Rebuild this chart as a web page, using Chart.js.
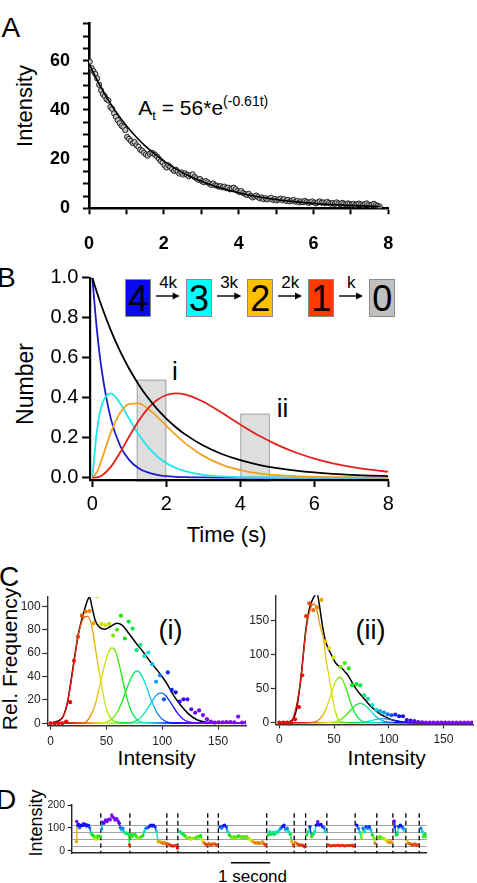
<!DOCTYPE html>
<html><head><meta charset="utf-8">
<script src="https://cdn.jsdelivr.net/npm/chart.js@4.4.1/dist/chart.umd.min.js"></script>
<style>
html,body{margin:0;padding:0;background:#fff;}
body{width:477px;height:883px;position:relative;overflow:hidden;font-family:'Liberation Sans',Arial,sans-serif;color:#000;}
canvas{position:absolute;}
.t{position:absolute;white-space:nowrap;line-height:1;}
.c{transform:translateX(-50%);}
.r{transform:translate(-50%,-50%) rotate(-90deg);}
.box{position:absolute;box-sizing:border-box;border:1px solid #8a8a8a;text-align:center;font-size:36px;line-height:37px;width:26px;height:38px;top:279px;}
svg{position:absolute;overflow:visible;}
</style></head><body>

<div class="t" style="left:1.5px;top:14.4px;font-size:28px">A</div>
<div class="t" style="left:-3px;top:263.9px;font-size:28px">B</div>
<div class="t" style="left:-1px;top:563.4px;font-size:28px">C</div>
<div class="t" style="left:-4px;top:786.4px;font-size:28px">D</div>

<div class="t" style="left:138.3px;top:97px;font-size:21px">A<span style="font-size:13px;position:relative;top:5px">t</span> = 56*e<span style="font-size:14px;position:relative;top:-9px">(-0.61t)</span></div>
<div class="t r" style="left:25px;top:106px;font-size:22px">Intensity</div>

<div class="t r" style="left:25px;top:384px;font-size:23px">Number</div>
<div class="t" style="left:186.7px;top:524px;font-size:22px">Time (s)</div>
<div class="t c" style="left:175px;top:358px;font-size:26px">i</div>
<div class="t c" style="left:282.5px;top:394.7px;font-size:26px">ii</div>

<div id="scheme"></div>

<div class="t r" style="left:9px;top:659px;font-size:21px">Rel. Frequency</div>
<div class="t c" style="left:156.7px;top:747.3px;font-size:21px">Intensity</div>
<div class="t c" style="left:386.7px;top:747.3px;font-size:21px">Intensity</div>
<div class="t" style="left:170.6px;top:629.6px;font-size:27px;transform:translate(-50%,-50%)">(i)</div>
<div class="t" style="left:370.5px;top:629.6px;font-size:27px;transform:translate(-50%,-50%)">(ii)</div>

<div class="t r" style="left:36px;top:823px;font-size:18px">Intensity</div>
<div class="t c" style="left:252.5px;top:867.6px;font-size:17px">1 second</div>

<script>
// ================= DATA =================
// Panel A : photobleaching decay
const aFrameStart = 0.02, aFrameStep = 0.05;
const aIntensity = [
 59.6,57.0,55.8,54.6,52.8,50.2,48.0,46.4,45.6,44.3,
 43.8,41.2,40.4,38.6,37.2,35.8,34.6,33.5,33.0,31.8,
 29.0,28.2,27.4,26.5,26.9,25.6,25.0,23.8,23.4,22.6,
 21.9,21.4,22.2,22.6,22.3,21.7,21.0,20.1,19.2,18.6,
 17.4,16.6,17.5,16.8,16.0,15.2,15.7,14.9,14.1,14.6,
 13.7,14.2,13.6,13.0,13.5,13.8,12.7,12.2,11.6,11.9,
 11.0,10.6,11.1,10.6,10.0,9.5,10.1,9.4,9.2,8.8,
 9.0,8.5,8.8,8.2,8.4,7.7,8.1,8.4,7.8,7.1,
 6.6,7.0,6.2,5.8,5.4,5.9,5.1,4.4,4.8,5.2,
 4.5,4.0,4.4,3.7,4.1,3.6,3.9,4.3,3.4,3.8,
 3.2,3.6,3.9,3.3,3.7,3.0,3.4,2.8,3.1,3.4,
 2.7,3.0,2.4,2.8,2.5,3.0,2.6,2.2,2.5,2.8,
 2.3,2.0,2.5,2.8,2.3,2.4,2.1,2.6,2.2,1.9,
 2.1,1.8,2.4,2.0,1.7,2.2,1.9,1.6,2.0,1.8,
 1.5,1.8,1.4,1.7,1.9,1.6,1.3,1.7,2.0,1.5,
 1.2,1.5,1.8,1.3,1.0,0.7];
const aFitTime  = [0,0.25,0.5,0.75,1,1.25,1.5,1.75,2,2.5,3,3.5,4,4.5,5,5.5,6,6.5,7,7.5,7.8];
const aFitValue = [58.8,51.1,44.4,38.6,33.6,29.2,25.4,22.1,19.2,14.5,11.0,8.3,6.3,4.7,3.6,2.7,2.0,1.5,1.2,0.9,0.75];
const aXLabels = [0,2,4,6,8];
const aYLabels = [0,20,40,60];

// Panel B : number of active fluorophores vs time
const bTime   = [0,0.125,0.25,0.5,0.75,1,1.25,1.5,1.75,2,2.25,2.5,3,3.5,4,4.5,5,5.5,6,6.5,7,7.5,8];
const bBlack  = [1,0.9266,0.8586,0.7371,0.6329,0.5434,0.4665,0.4005,0.3439,0.2952,0.2535,0.2176,0.1604,0.1182,0.0872,0.0642,0.0474,0.0349,0.0257,0.0190,0.0140,0.0103,0.0076];
const bBlue   = [1,0.7372,0.5434,0.2952,0.1605,0.0872,0.0474,0.0257,0.0140,0.0076,0.0041,0.0022,0.0007,0.0002,0.0001,0,0,0,0,0,0,0,0];
const bCyan   = [0,0.2336,0.358,0.4212,0.3722,0.2930,0.2166,0.1540,0.1068,0.0725,0.0486,0.0322,0.0139,0.0058,0.0024,0.0010,0.0004,0.0002,0.0001,0,0,0,0];
const bOrange = [0,0.0278,0.0884,0.2253,0.3239,0.3694,0.3716,0.3459,0.3055,0.2596,0.2149,0.1739,0.1088,0.0652,0.0380,0.0216,0.0122,0.0068,0.0038,0.0021,0.0011,0.0006,0.0003];
const bRed    = [0,0.0015,0.0097,0.0536,0.1252,0.2069,0.2833,0.3452,0.3885,0.4134,0.4218,0.4168,0.3797,0.3242,0.2653,0.2104,0.1639,0.1255,0.0951,0.0716,0.0537,0.0400,0.0297];
const bWindowStart = [1.2, 4.0];
const bWindowEnd   = [2.0, 4.8];
const bWindowTop   = [0.49, 0.32];
const bXLabels = [0,2,4,6,8];
const bYLabels = [0,0.2,0.4,0.6,0.8,1.0];
const bStates = ['4','3','2','1','0'];
const bRates  = ['4k','3k','2k','k'];

// Panel C(i) : intensity histogram, window i
const ciBinX  = [0,3.5,7,10.5,14,17.5,21,24.5,28,31.5,35,38.5,42,45.5,49,52.5,56,59.5,63,66.5,70,73.5,77,80.5,84,87.5,91,94.5,98,101.5,105,108.5,112,115.5,119,122.5,126,129.5,133,136.5,140,143.5,147,150.5,154,157.5,161,164.5,168,171.5,175];
const ciFreq  = [0,0,0,0,1.5,18,53.5,74,92,95.5,96,85.5,109,85,84,85,75,80,92,72.5,87,81,62.5,67,57.5,60.5,50.5,35.5,41,20.5,43.5,28.5,26.5,18.5,20.5,20.5,12,9,11,7,3.5,1.5,0.6,0.8,0.8,1,1,0.8,5.7,0.6,0.6];
const ciSumX  = [0,10,15,20,25,28,31,33,35,37,40,44,49,54,59.5,64,70,77,83,89,95,101,106,110,116,123,131,140,150,175];
const ciSumY  = [0,4,17,47,77,89,99,105,108,100,88,82,80.5,83,85.5,84,77,68,61,53,46,38.5,31,24,16,8.5,3,0.8,0.2,0];
const ci1X = [0,5,10,13,15,17.5,20,22.5,25,28,30.5,33,35.5,38,40,42.5,45,47.5,50,55,60,70,175];
const ci1Y = [0,0.5,4,10,17,30,46,62,76,87,91,91.5,88,78,65,50,36,23,12,3,1,0.3,0];
const ci2X = [0,30,35,40,43,46,49,52,55,58,62,65,68,72,76,80,90,175];
const ci2Y = [0,0.3,5,16,28,40,52,61,64.5,62,48,35,23,11,4.5,1.5,0.3,0];
const ci3X = [0,45,50,55,60,65,70,75,77.5,80,85,90,95,100,105,110,175];
const ci3Y = [0,0.4,1,3.6,9.8,20.7,34,43.4,44.7,43.2,33.5,20.2,9.5,3.5,1,0.2,0];
const ci4X = [0,65,70,75,80,85,90,95,99,103,108,113,118,123,128,135,175];
const ci4Y = [0,0.2,0.4,1.5,4.4,10,17.7,24.2,26,23.8,17,9.5,4.1,1.4,0.4,0.1,0];
const ciXLabels = [0,50,100,150];
const ciYLabels = [0,20,40,60,80,100];

// Panel C(ii) : intensity histogram, window ii
const ciiBinX = [0,3.6,7.2,10.8,14.4,18,21,24.5,27.5,31,34.5,38.5,42,45.7,49.5,56,59.8,63.5,66.5,70.5,74,77.5,81,85,88.5,92,95.5,99,102.5,106,109.5,113,116.5,120,123.5,127,130.5,134,137.5,141,144.5,148,151.5,155,158.5,162,165.5,169,172.5,176];
const ciiFreq = [0,0,0,0,5,23,70,157,176,166,170,181,120,110,96,82,88,80,55.5,57,55,40.5,35,26,19,17,15,12.5,11,12,9.5,9.5,4,3,2.5,1,0.5,0.3,0,0,0,0,0,0,0,0,0,0,0,0];
const ciiSumX = [0,10,13,16,20,24,27,30,32.5,34.5,36.5,39.5,42,44,47,51.5,54,57.5,60,63.5,67,71,75,78.5,83,87.5,92,96.5,101,105.5,110,114.5,120,177];
const ciiSumY = [0,2,6,22,70,134,165,180,188,190,175,142,122,112,102,88,84,80,75,68,58,48,40,33.5,25,18.7,13,8.9,5.5,3,1.5,0.5,0.1,0];
const cii1X = [0,5,10,12.5,15.5,18,20,22,24.5,27,29,31.5,34,37,40.5,43,45.5,48,50,52.5,55,60,70,177];
const cii1Y = [0,0.3,2,6.4,23.6,45,68,100,137,160,171,175,168,145,122,90,68,42,24,10,3,0.5,0.1,0];
const cii2X = [0,30,35,40,43,46,49,52,55,58,61,64,67,70,75,80,90,177];
const cii2Y = [0,0.5,2.9,11.5,21.8,35.6,50.6,62.4,67,62.4,50.6,35.6,21.8,11.5,2.9,0.5,0.05,0];
const cii3X = [0,46,50,54,58,62,66,70,74,78,82,86,90,94,98,102,110,177];
const cii3Y = [0,0.4,1.2,3.1,6.9,12.9,20,26.2,28.6,26.2,20,12.9,6.9,3.1,1.2,0.4,0.1,0];
const cii4X = [0,70,80,88,95,102,110,118,125,177];
const cii4Y = [0,0.2,1.5,4.5,6,4.5,2,0.5,0.1,0];
const ciiXLabels = [0,50,100,150];
const ciiYLabels = [0,50,100,150];

// Panel D : concatenated single-particle traces (time in s, intensity)
const dSegTimes = [
 [0.12,0.13,0.16,0.18,0.2,0.22,0.25,0.28,0.3,0.33,0.35,0.38,0.4,0.43,0.46,0.49,0.52,0.55,0.58,0.6,0.62,0.65,0.67,0.7,0.73],
 [0.76,0.79,0.82,0.86,0.9,0.94,0.98,1.02,1.06,1.1,1.14,1.18,1.21,1.24,1.27,1.3,1.34,1.38,1.42,1.45,1.47],
 [1.5,1.53,1.57,1.61,1.65,1.69,1.73,1.77,1.81,1.85,1.89,1.93,1.97,2.01,2.05,2.08,2.12,2.16,2.2,2.24,2.28,2.32,2.36,2.4],
 [2.45,2.5,2.55,2.6,2.65,2.69],
 [2.76,2.8,2.84,2.88,2.92,2.96,3.0,3.04,3.08,3.12,3.16,3.2,3.24,3.28,3.32,3.36,3.4,3.44],
 [3.49,3.54,3.59,3.64,3.69],
 [3.77,3.81,3.85,3.89,3.93,3.97,4.01,4.05,4.09,4.13,4.17,4.21,4.25,4.29,4.33,4.37,4.41,4.45,4.49,4.53,4.57,4.61,4.65,4.69,4.73,4.77,4.81,4.85,4.89,4.93],
 [5.0,5.04,5.08,5.12,5.16,5.2,5.24,5.28,5.32,5.36,5.4,5.44,5.48,5.52,5.56,5.6,5.64],
 [5.69,5.74,5.79,5.84,5.89,5.93],
 [5.98,6.02,6.06,6.1,6.14,6.18,6.22,6.26,6.3,6.34,6.38,6.42,6.45],
 [6.53,6.59,6.65,6.71,6.77,6.83,6.89,6.95,7.01,7.07,7.13,7.17],
 [7.25,7.29,7.33,7.37,7.41,7.45,7.49,7.53,7.57,7.61,7.65,7.69,7.72],
 [7.8,7.84,7.88,7.92,7.96,8.0,8.04,8.08,8.11,8.14],
 [8.2,8.22,8.25,8.28,8.32,8.36,8.4,8.43,8.46],
 [8.53,8.57,8.62,8.67,8.72,8.76,8.8],
 [8.88,8.92,8.95,8.99,9.02]
];
const dSegValues = [
 [39,128,110,115,100,108,112,110,118,112,115,108,112,110,100,78,70,66,60,55,50,58,65,62,62],
 [95,125,120,134,128,138,135,156,145,134,141,130,120,100,90,98,80,76,76,72,25],
 [71,61,69,72,61,54,57,61,66,83,98,100,105,112,108,112,105,83,39,39,36,32,36,30],
 [29,25,21,21,23,12],
 [83,76,72,65,57,54,57,50,54,54,57,61,61,66,47,35,29,25],
 [32,25,29,29,25],
 [105,98,108,112,105,83,69,61,54,61,54,61,65,61,57,61,58,61,55,50,45,39,36,32,36,32,34,39,30,25],
 [69,83,72,80,72,83,80,90,98,105,112,90,98,83,72,39,25],
 [36,29,25,25,22,17],
 [69,83,105,61,72,83,112,127,112,115,105,100,83],
 [25,21,23,22,24,22,23,21,23,22,24,20],
 [112,98,80,54,98,83,105,98,105,90,69,54,32],
 [57,61,57,54,51,47,39,36,39,36],
 [130,105,69,72,105,112,105,98,90],
 [43,32,29,25,29,25,25],
 [98,83,61,72,61]
];
const dBoundaries = [0.74,1.48,2.42,2.70,3.46,3.73,4.96,5.66,5.95,6.49,7.21,7.76,8.17,8.50,8.84];
const dLevels = [22,53,83,112];
const dYLabels = [0,100,200];
const dDashTop = 164;
const dScaleBarStart = 4.05, dScaleBarLength = 1;

// ================= HELPERS =================
const FONT = "'Liberation Sans', Arial, sans-serif";
Chart.defaults.font.family = FONT;
Chart.defaults.color = '#000';
Chart.defaults.animation = false;
Chart.defaults.plugins.legend.display = false;
Chart.defaults.plugins.tooltip.enabled = false;

const hueStops = [[0,0],[18,0],[28,20],[38,42],[46,58],[55,85],[64,115],[75,145],[86,178],[96,205],[106,232],[118,252],[135,268],[300,275]];
function hueAt(v){
  if (v <= hueStops[0][0]) return hueStops[0][1];
  for (let i=1;i<hueStops.length;i++){
    const [x1,h1] = hueStops[i], [x0,h0] = hueStops[i-1];
    if (v <= x1) return h0 + (h1-h0)*(v-x0)/(x1-x0);
  }
  return hueStops[hueStops.length-1][1];
}
function rainbow(v){
  const h = hueAt(v);
  const l = (h>200) ? 50 : 47;
  return `hsl(${h.toFixed(1)},92%,${l}%)`;
}
function rainbowGradient(chart, vmin, vmax){
  const {ctx, chartArea, scales} = chart;
  if (!chartArea) return '#888';
  const x0 = scales.x.getPixelForValue(vmin), x1 = scales.x.getPixelForValue(vmax);
  const g = ctx.createLinearGradient(x0,0,x1,0);
  for (let v=vmin; v<=vmax; v+=5) g.addColorStop((v-vmin)/(vmax-vmin), rainbow(v));
  return g;
}
function pts(xs, ys){ return xs.map((x,i)=>({x, y:ys[i]})); }

function makeCanvas(left, top, w, h){
  const c = document.createElement('canvas');
  c.width = w; c.height = h;
  c.style.left = left+'px'; c.style.top = top+'px';
  c.style.width = w+'px'; c.style.height = h+'px';
  document.body.appendChild(c);
  return c;
}
function frame(box, area){
  return {
    yW: area.l - box.left,
    xH: box.top + box.h - area.b,
    padding: {top: area.t - box.top, right: box.left + box.w - area.r, left: 0, bottom: 0}
  };
}
function fixedTicks(values){ return s => { s.ticks = values.map(v=>({value:v})); }; }

// ================= PANEL A =================
(function(){
  const box = {left:0, top:0, w:477, h:262};
  const f = frame(box, {l:89, t:2, r:388.3, b:208.3});
  const c = makeCanvas(box.left, box.top, box.w, box.h);
  const scatter = aIntensity.map((v,i)=>({x: aFrameStart + i*aFrameStep, y: v}));
  new Chart(c, {
    type:'line',
    data:{datasets:[
      {data: pts(aFitTime, aFitValue), borderColor:'#000', borderWidth:1.6, pointRadius:0, cubicInterpolationMode:'monotone', fill:false},
      {data: scatter, showLine:false, pointRadius:2.6, pointBackgroundColor:'#c4c4c4', pointBorderColor:'#111', pointBorderWidth:0.9}
    ]},
    options:{
      responsive:false, layout:{padding:f.padding},
      scales:{
        x:{type:'linear', min:0, max:8, afterFit:s=>{s.height=f.xH;},
           afterBuildTicks: fixedTicks([0,1,2,3,4,5,6,7,8]),
           ticks:{padding:19, font:{size:18, weight:'bold'}, maxRotation:0, autoSkip:false,
                  callback:v=> aXLabels.includes(v) ? String(v) : ''},
           grid:{drawOnChartArea:false, tickLength:6, tickWidth:2, tickColor:'#000'},
           border:{width:2.6, color:'#000'}},
        y:{type:'linear', min:0, max:75, afterFit:s=>{s.width=f.yW;},
           afterBuildTicks: fixedTicks([0,5,10,15,20,25,30,35,40,45,50,55,60,65,70,75]),
           ticks:{padding:13, font:{size:18, weight:'bold'}, autoSkip:false,
                  callback:v=> aYLabels.includes(v) ? String(v) : ''},
           grid:{drawOnChartArea:false, tickLength:6, tickWidth:2, tickColor:'#000'},
           border:{width:2.6, color:'#000'}}
      }
    }
  });
})();

// ================= PANEL B =================
(function(){
  const box = {left:0, top:262, w:477, h:300};
  const f = frame(box, {l:90.1, t:275.5, r:388.3, b:480});
  const c = makeCanvas(box.left, box.top, box.w, box.h);
  const windows = {
    id:'bWindows',
    beforeDraw(chart){
      const {ctx, scales:{x,y}} = chart;
      ctx.save();
      for (let i=0;i<bWindowStart.length;i++){
        const x0 = x.getPixelForValue(bWindowStart[i]), x1 = x.getPixelForValue(bWindowEnd[i]);
        const y0 = y.getPixelForValue(bWindowTop[i]), y1 = y.getPixelForValue(-0.02);
        ctx.fillStyle = '#dedede'; ctx.fillRect(x0,y0,x1-x0,y1-y0);
        ctx.strokeStyle = '#a4a4a4'; ctx.lineWidth = 1;
        ctx.strokeRect(x0+0.5,y0+0.5,x1-x0-1,y1-y0-1);
      }
      ctx.restore();
    }
  };
  const line = (ys,col)=>({data:pts(bTime,ys), borderColor:col, borderWidth:1.8, pointRadius:0, cubicInterpolationMode:'monotone', fill:false});
  new Chart(c, {
    type:'line',
    data:{datasets:[ line(bBlack,'#000'), line(bRed,'#e4201a'), line(bOrange,'#f2a11f'), line(bCyan,'#22e6ee'), line(bBlue,'#1c1ccc') ]},
    options:{
      responsive:false, layout:{padding:f.padding},
      scales:{
        x:{type:'linear', min:-0.06, max:8, afterFit:s=>{s.height=f.xH;},
           afterBuildTicks: fixedTicks(bXLabels),
           ticks:{padding:5, font:{size:20}, maxRotation:0, autoSkip:false, callback:v=>String(v)},
           grid:{drawOnChartArea:false, tickLength:7, tickWidth:2, tickColor:'#000'},
           border:{width:2.2, color:'#000'}},
        y:{type:'linear', min:-0.012, max:1.0, afterFit:s=>{s.width=f.yW;},
           afterBuildTicks: fixedTicks(bYLabels),
           ticks:{padding:3.8, font:{size:20}, autoSkip:false, callback:v=>v.toFixed(1)},
           grid:{drawOnChartArea:false, tickLength:8, tickWidth:2, tickColor:'#000'},
           border:{width:2.2, color:'#000'}}
      }
    },
    plugins:[windows]
  });
})();

// scheme boxes
(function(){
  const host = document.getElementById('scheme');
  const boxLeft = [125.3,186,247.3,308.3,369.3];
  const colors = ['#0a0aee','#00ffff','#ffc000','#ff3a00','#c0c0c0'];
  bStates.forEach((s,i)=>{
    const d = document.createElement('div');
    d.className = 'box'; d.textContent = s;
    d.style.left = boxLeft[i]+'px'; d.style.background = colors[i];
    host.appendChild(d);
  });
  bRates.forEach((r,i)=>{
    const x0 = boxLeft[i]+31, x1 = boxLeft[i+1]-6;
    const svg = document.createElementNS('http://www.w3.org/2000/svg','svg');
    svg.setAttribute('width', x1-x0+2); svg.setAttribute('height', 10);
    svg.style.left = x0+'px'; svg.style.top = '290.7px';
    const w = x1-x0;
    svg.innerHTML = `<line x1="0" y1="5" x2="${w-6}" y2="5" stroke="#000" stroke-width="1.4"/><polygon points="${w-7},1.5 ${w},5 ${w-7},8.5" fill="#000"/>`;
    host.appendChild(svg);
    const t = document.createElement('div');
    t.className = 't c'; t.textContent = r;
    t.style.left = ((x0+x1)/2)+'px'; t.style.top = '273.8px'; t.style.fontSize = '17px';
    host.appendChild(t);
  });
})();

// ================= PANEL C =================
function histChart(box, area, binX, freq, sumX, sumY, comps, xLabels, yLabels, xmin, xmax, ymin, ymax){
  const f = frame(box, area);
  const c = makeCanvas(box.left, box.top, box.w, box.h);
  const compSets = comps.map(([xs,ys])=>({data:pts(xs,ys), borderColor:ctx=>rainbowGradient(ctx.chart,0,175), borderWidth:1.3, pointRadius:0, cubicInterpolationMode:'monotone', fill:false}));
  // dataset 0 is drawn on top: points, then components, then the black envelope underneath
  new Chart(c, {
    type:'line',
    data:{datasets:[
      {data:pts(binX,freq), showLine:false, pointRadius:2.1, pointBorderWidth:0,
       pointBackgroundColor:ctx=>rainbow(ctx.raw ? ctx.raw.x : 0)},
      ...compSets,
      {data:pts(sumX,sumY), borderColor:'#000', borderWidth:1.5, pointRadius:0, cubicInterpolationMode:'monotone', fill:false}
    ]},
    options:{
      responsive:false, layout:{padding:f.padding},
      scales:{
        x:{type:'linear', min:xmin, max:xmax, afterFit:s=>{s.height=f.xH;},
           afterBuildTicks: fixedTicks(xLabels),
           ticks:{padding:4.5, font:{size:12}, color:'#222', maxRotation:0, autoSkip:false, callback:v=>String(v)},
           grid:{drawOnChartArea:false, tickLength:4, tickWidth:1.2, tickColor:'#333'},
           border:{width:1.4, color:'#333'}},
        y:{type:'linear', min:ymin, max:ymax, afterFit:s=>{s.width=f.yW;},
           afterBuildTicks: fixedTicks(yLabels),
           ticks:{padding:1.5, font:{size:12}, color:'#222', autoSkip:false, callback:v=>String(v)},
           grid:{drawOnChartArea:false, tickLength:5, tickWidth:1.2, tickColor:'#333'},
           border:{width:1.4, color:'#333'}}
      }
    }
  });
}
histChart({left:0, top:585, w:250, h:200}, {l:47.2, t:597, r:246, b:725.6},
  ciBinX, ciFreq, ciSumX, ciSumY, [[ci1X,ci1Y],[ci2X,ci2Y],[ci3X,ci3Y],[ci4X,ci4Y]],
  ciXLabels, ciYLabels, -3, 175, -2, 108);
histChart({left:250, top:585, w:227, h:200}, {l:275.7, t:595.2, r:476, b:724.4},
  ciiBinX, ciiFreq, ciiSumX, ciiSumY, [[cii1X,cii1Y],[cii2X,cii2Y],[cii3X,cii3Y],[cii4X,cii4Y]],
  ciiXLabels, ciiYLabels, -3.3, 177, -2.5, 188);

// ================= PANEL D =================
(function(){
  const box = {left:0, top:795, w:477, h:88};
  const f = frame(box, {l:71.7, t:805, r:426.7, b:853.3});
  const c = makeCanvas(box.left, box.top, box.w, box.h);
  const data = [];
  dSegTimes.forEach((ts,si)=>{
    ts.forEach((t,i)=>data.push({x:t, y:dSegValues[si][i]}));
    data.push({x:ts[ts.length-1]+0.005, y:null});
  });
  const decor = {
    id:'dDecor',
    beforeDatasetsDraw(chart){
      const {ctx, scales:{x,y}, chartArea:a} = chart;
      ctx.save();
      ctx.strokeStyle = '#8c8c8c'; ctx.lineWidth = 0.8;
      dLevels.forEach(v=>{ const py = Math.round(y.getPixelForValue(v))+0.5; ctx.beginPath(); ctx.moveTo(a.left,py); ctx.lineTo(a.right,py); ctx.stroke(); });
      ctx.strokeStyle = '#000'; ctx.lineWidth = 1.3; ctx.setLineDash([4.5,3]);
      dBoundaries.forEach(t=>{ const px = x.getPixelForValue(t); ctx.beginPath(); ctx.moveTo(px, y.getPixelForValue(dDashTop)); ctx.lineTo(px, a.bottom); ctx.stroke(); });
      ctx.setLineDash([]);
      ctx.lineWidth = 1.6;
      const sy = a.bottom + 9.4;
      ctx.beginPath(); ctx.moveTo(x.getPixelForValue(dScaleBarStart), sy); ctx.lineTo(x.getPixelForValue(dScaleBarStart+dScaleBarLength), sy); ctx.stroke();
      ctx.restore();
    }
  };
  new Chart(c, {
    type:'line',
    data:{datasets:[{data, spanGaps:false, borderWidth:1.4, pointRadius:1.7, pointBorderWidth:0,
      pointBackgroundColor:ctx=>rainbow(ctx.raw && ctx.raw.y!=null ? ctx.raw.y : 0),
      segment:{borderColor:ctx=>rainbow(ctx.p0.parsed.y)}}]},
    options:{
      responsive:false, layout:{padding:f.padding},
      scales:{
        x:{type:'linear', min:0, max:9.03, afterFit:s=>{s.height=f.xH;},
           ticks:{display:false}, grid:{display:false}, border:{width:1.6, color:'#222'}},
        y:{type:'linear', min:-11.5, max:200, afterFit:s=>{s.width=f.yW;},
           afterBuildTicks: fixedTicks(dYLabels),
           ticks:{padding:2.7, font:{size:10.5}, color:'#222', autoSkip:false, callback:v=>String(v)},
           grid:{drawOnChartArea:false, tickLength:4, tickWidth:1.2, tickColor:'#222'},
           border:{width:1.4, color:'#222'}}
      }
    },
    plugins:[decor]
  });
})();
</script>
</body></html>
